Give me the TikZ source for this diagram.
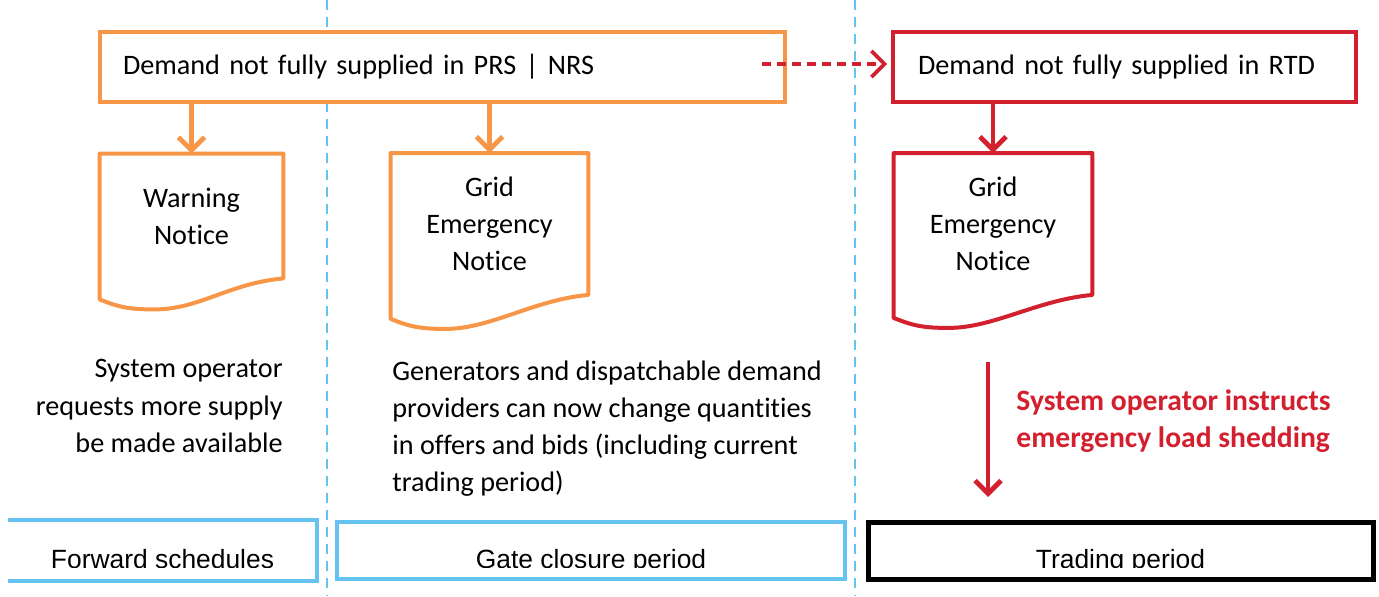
\documentclass[tikz,border=0pt]{standalone}
\usepackage{fontspec}
\setmainfont{Carlito}[Ligatures=NoCommon]
\newfontfamily\periodfont{Liberation Sans}
\usepackage{tikz}
\usetikzlibrary{arrows.meta, calc, positioning}
\definecolor{noticeorange}{RGB}{247,150,70}
\definecolor{noticered}{RGB}{211,32,47}
\definecolor{periodblue}{RGB}{100,195,240}

% notice outline with a wavy lower edge: node name, drop of left corner, colour
\newcommand{\noticeshape}[3]{%
  \draw[#3, line width=2pt, line join=round]
    (#1.south east) -- (#1.north east) -- (#1.north west)
    -- ($(#1.south west)+(0,#2)$)
    .. controls +(20,8) and +(-25,0) .. ++(55,10)
    .. controls +(45,0) and +(-55,5) .. (#1.south east) -- cycle;}

\begin{document}
\begin{tikzpicture}[
    x=0.5pt, y=-0.5pt,
    every node/.style={font=\fontsize{14.1}{18.6}\selectfont},
    trigger/.style={rectangle, draw, line width=2pt, fill=white, minimum height=35pt, inner xsep=11.5pt, align=left},
    notice/.style={rectangle, inner sep=0pt, align=center},
    note/.style={inner sep=0pt},
    arrow/.style={-{Straight Barb[length=6.5pt, width=13pt]}, line width=2.4pt},
    period/.style={rectangle, line width=2pt, minimum height=28.5pt, inner sep=0pt},
    periodtext/.style={font=\periodfont\fontsize{13.2}{16}\selectfont, inner sep=0pt, anchor=base},
    divider/.style={periodblue, line width=1pt, dash pattern=on 5pt off 3.5pt}
]
    \useasboundingbox (0,0) rectangle (1379,596);

    % Period dividers
    \draw[divider] (327,0) -- (327,596);
    \draw[divider] (855,0) -- (855,596);

    % Shortfall triggers
    \node[trigger, draw=noticeorange, text width=319.5pt] (prsnrs) at (442.5,67) {Demand not fully supplied in PRS | NRS};
    \node[trigger, draw=noticered, text width=206.5pt, inner xsep=12.5pt] (rtd) at (1124.5,67) {Demand not fully supplied in RTD};
    \coordinate (carry) at (762,64);
    \draw[arrow, noticered, line width=1.8pt, dash pattern=on 4.5pt off 3pt, shorten >=2pt] (carry) -- (carry -| rtd.west);

    % Notices
    \node[notice, minimum width=91.5pt, minimum height=62pt] (warn) at (191.5,216) {Warning\\Notice};
    \node[notice, minimum width=98.5pt, minimum height=70.5pt] (gen) at (489.5,224) {Grid\\Emergency\\Notice};
    \node[notice, minimum width=99pt, minimum height=70.5pt] (rtdgen) at (993,224) {Grid\\Emergency\\Notice};
    \noticeshape{warn}{21}{noticeorange}
    \noticeshape{gen}{24}{noticeorange}
    \noticeshape{rtdgen}{23}{noticered}
    \draw[arrow, noticeorange] (prsnrs.south -| warn) -- (warn.north);
    \draw[arrow, noticeorange] (prsnrs.south -| gen) -- (gen.north);
    \draw[arrow, noticered] (rtd.south -| rtdgen) -- (rtdgen.north);

    % What happens next
    \node[note, align=right, anchor=east] (request) at (283,406) {System operator\\requests more supply\\be made available};
    \node[note, align=left, anchor=west] (offers) at (392,428.5) {Generators and dispatchable demand\\providers can now change quantities\\in offers and bids (including current\\trading period)};
    \node[note, align=left, anchor=west, text=noticered, font=\fontsize{14.8}{18.6}\selectfont\bfseries] (shedding) at (1016,421.5) {System operator instructs\\emergency load shedding};
    \coordinate (shedtop) at (988,362);
    \coordinate (shedend) at (988,497);
    \draw[arrow, noticered] (shedtop) -- (shedend);

    % Periods
    \node[period, minimum width=152.5pt] (fwd) at (162.5,550.5) {};
    \draw[periodblue, line width=2pt] (fwd.north west) -- (fwd.north east) -- (fwd.south east) -- (fwd.south west);
    \node[period, draw=periodblue, minimum width=254pt] (gate) at (591,550.5) {};
    \node[period, draw=black, line width=2.5pt, minimum width=252.5pt] (trading) at (1120.5,550.5) {};
    \begin{scope}
        \clip (0,0) rectangle (1379,567);
        \node[periodtext] (fwdlabel) at ($(fwd.south)+(0,-13)$) {Forward schedules};
        \node[periodtext] (gatelabel) at ($(gate.south)+(0,-13)$) {Gate closure period};
        \node[periodtext] (tradinglabel) at ($(trading.south)+(0,-13)$) {Trading period};
    \end{scope}
\end{tikzpicture}
\end{document}
